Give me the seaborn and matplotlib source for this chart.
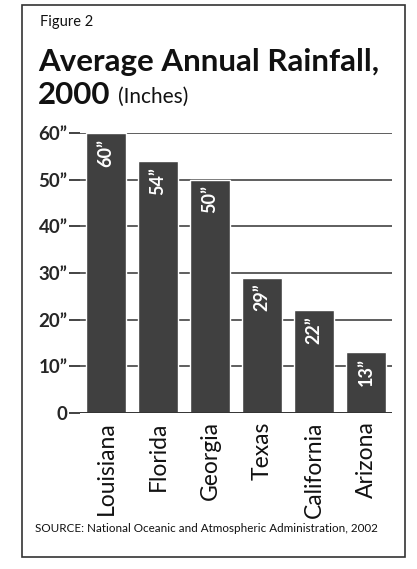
import matplotlib
matplotlib.use("Agg")
import matplotlib.pyplot as plt
import seaborn as sns
import pandas as pd
from matplotlib.patches import Rectangle

states = ["Louisiana", "Florida", "Georgia", "Texas", "California", "Arizona"]
rainfall = [60, 54, 50, 29, 22, 13]
value_labels = ["60\u201d", "54\u201d", "50\u201d", "29\u201d", "22\u201d", "13\u201d"]
y_ticks = [0, 10, 20, 30, 40, 50, 60]
y_tick_labels = ["0", "10\u201d", "20\u201d", "30\u201d", "40\u201d", "50\u201d", "60\u201d"]

df = pd.DataFrame({"state": states, "rainfall": rainfall})

sns.set_theme(style="white")
plt.rcParams["font.family"] = ["Lato", "DejaVu Sans"]

fig = plt.figure(figsize=(4.17, 5.69), dpi=100)
ax = fig.add_axes([0.192, 0.274, 0.748, 0.492])

sns.barplot(data=df, x="state", y="rainfall", color="#404040", width=0.78,
            saturation=1, ax=ax, zorder=3)

ax.set_ylim(0, 60)
ax.set_yticks(y_ticks)
ax.set_yticklabels(y_tick_labels, fontsize=13.5, fontweight="bold")
ax.tick_params(axis="y", length=8, width=1.2, color="#222222", pad=1, left=True)
ax.tick_params(axis="x", length=0, pad=6)
for lab in ax.get_xticklabels():
    lab.set_rotation(90)
    lab.set_fontsize(16.5)
    lab.set_color("#111111")
ax.set_xlabel("")
ax.set_ylabel("")
for y in y_ticks[1:]:
    ax.axhline(y, color="#333333", lw=1.1, zorder=1)
ax.axhline(0, color="#333333", lw=1.4, zorder=4)
for s in ax.spines.values():
    s.set_visible(False)

for i, (v, t) in enumerate(zip(rainfall, value_labels)):
    ax.text(i, v - 1.2, t, rotation=90, ha="center", va="top", color="white",
            fontsize=13, fontweight="bold", zorder=5)

# frame and titles
fig.patches.append(Rectangle((22 / 417, 1 - 557 / 569), 383 / 417, 552 / 569,
                             transform=fig.transFigure, fill=False,
                             edgecolor="#333333", lw=1.2))
fig.text(40 / 417, 1 - 22 / 569, "Figure 2", fontsize=10.5, va="center", color="#111111")
fig.text(38 / 417, 1 - 62 / 569, "Average Annual Rainfall,", fontsize=22.5,
         fontweight="bold", va="center", color="#111111")
t = fig.text(38 / 417, 1 - 95 / 569, "2000", fontsize=22.5, fontweight="bold",
             va="center", color="#111111")
fig.canvas.draw()
bb = t.get_window_extent()
fig.text((bb.x1 + 7) / 417, 1 - 97 / 569, "(Inches)", fontsize=15,
         va="center", color="#111111")
fig.text(35 / 417, 1 - 528 / 569,
         "SOURCE: National Oceanic and Atmospheric Administration, 2002",
         fontsize=8.4, va="center", color="#111111")

fig.savefig("out.png", dpi=100)
